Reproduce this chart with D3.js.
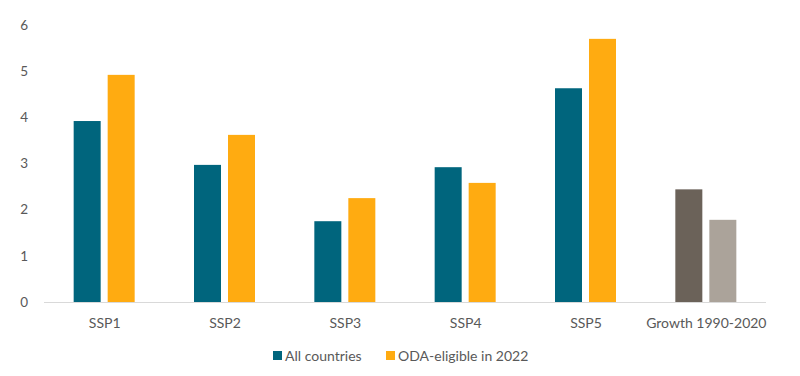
<!DOCTYPE html>
<html><head><meta charset="utf-8">
<script src="https://cdn.jsdelivr.net/npm/d3@7"></script>
<style>body{margin:0;background:#fff}text{font-family:Lato,"Open Sans",sans-serif;fill:#595959}</style>
</head><body><svg id="c" width="800" height="376"></svg>
<script>
const categories=["SSP1","SSP2","SSP3","SSP4","SSP5","Growth 1990-2020"];
const allCountries=[3.92,2.97,1.75,2.92,4.63,2.44];
const odaEligible=[4.92,3.62,2.25,2.58,5.70,1.78];
const seriesNames=["All countries","ODA-eligible in 2022"];
const yTicks=[0,1,2,3,4,5,6];
const colors=["#00657D","#FFAB11"];
const growthColors=["#6B6259","#ABA39A"];

const svg=d3.select("#c");
const x=d3.scaleBand().domain(categories).range([44,766]).padding(0);
const y=d3.scaleLinear().domain([0,6]).range([302,25]);
const barW=27,gap=7;
const x1=d3.scaleOrdinal().domain([0,1]).range([0,barW+gap]);

svg.append("g").selectAll("text").data(yTicks).join("text")
 .attr("x",28).attr("y",d=>y(d)).attr("dy","0.35em").attr("text-anchor","end")
 .attr("font-size",13.5).text(d=>d);

const g=svg.append("g");
categories.forEach((c,i)=>{
  const vals=[allCountries[i],odaEligible[i]];
  const off=x(c)+(x.bandwidth()-(2*barW+gap))/2;
  vals.forEach((v,j)=>{
    g.append("rect").attr("x",off+x1(j)).attr("y",y(v)).attr("width",barW)
     .attr("height",y(0)-y(v)).attr("fill",c.startsWith("Growth")?growthColors[j]:colors[j]);
  });
});

svg.append("line").attr("x1",44).attr("x2",766).attr("y1",y(0)+0.5).attr("y2",y(0)+0.5)
 .attr("stroke","#D9D9D9").attr("stroke-width",1);

svg.append("g").selectAll("text").data(categories).join("text")
 .attr("x",d=>x(d)+x.bandwidth()/2+0.5).attr("y",328).attr("text-anchor","middle")
 .attr("font-size",14).text(d=>d);

const leg=svg.append("g");
const legX=[273,386];
seriesNames.forEach((n,i)=>{
  leg.append("rect").attr("x",legX[i]).attr("y",351).attr("width",9).attr("height",9).attr("fill",colors[i]);
  leg.append("text").attr("x",legX[i]+12).attr("y",356).attr("dy","0.35em").attr("font-size",14).text(n);
});
</script></body></html>
